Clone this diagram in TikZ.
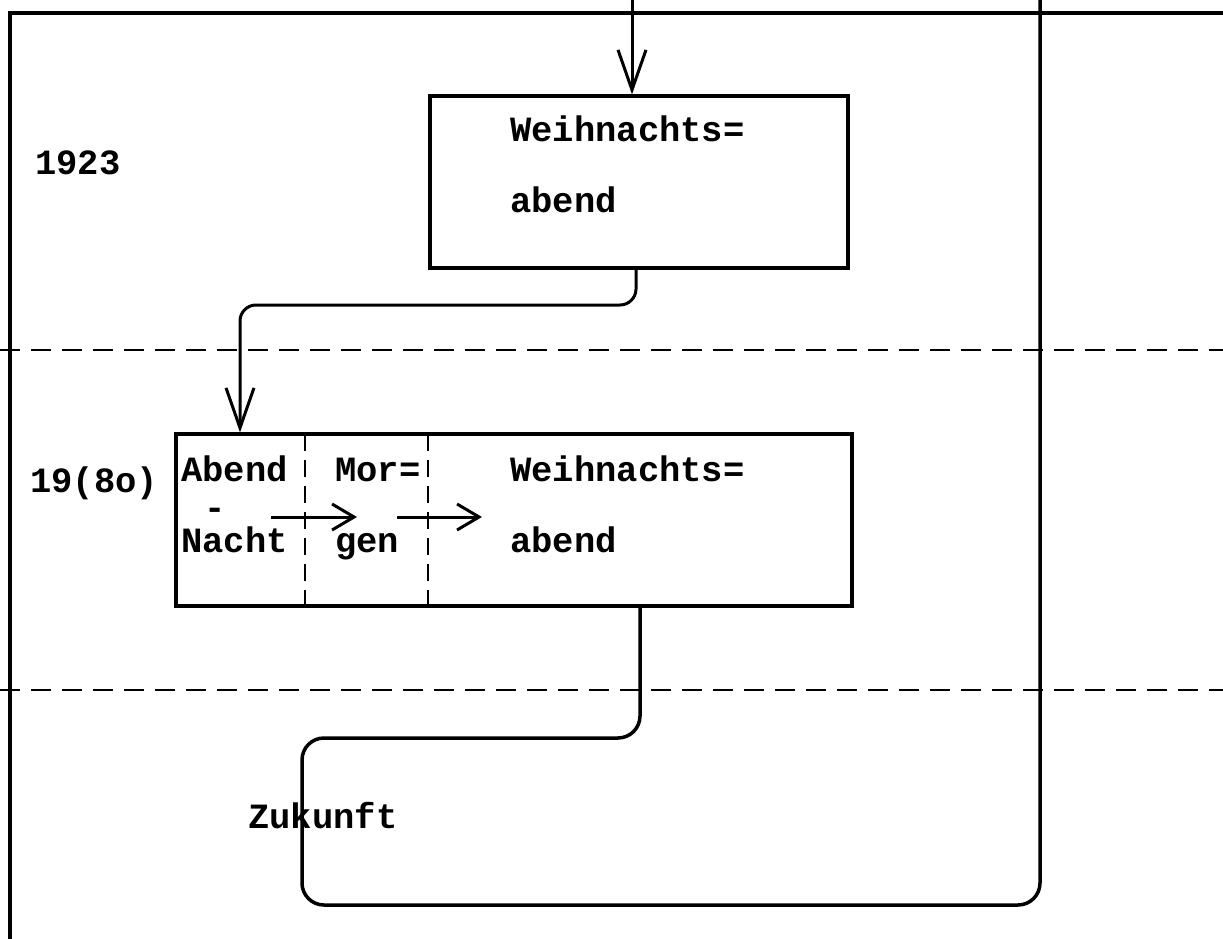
\documentclass[tikz,border=0pt]{standalone}
\usepackage{fontspec}
\newfontfamily\tw{Liberation Mono}[BoldFont={Liberation Mono Bold}]
\usetikzlibrary{arrows.meta}
\begin{document}
\begin{tikzpicture}[x=1pt,y=-1pt,
  ln/.style={line width=3pt},
  frame/.style={line width=3.2pt, line cap=round},
  dline/.style={line width=2.8pt, dash pattern=on 20pt off 11pt},
  dvert/.style={line width=2.6pt, dash pattern=on 17pt off 9pt},
  box/.style={draw, line width=3.2pt, rectangle, inner sep=0pt},
  txt/.style={font=\tw\bfseries\fontsize{35.5}{40}\selectfont, inner sep=0pt, anchor=base west},
  bigv/.style={-{Straight Barb[length=40pt,width=28pt]}},
  smallv/.style={-{Straight Barb[length=22pt,width=26pt]}},
  loop/.style={line width=3.5pt, rounded corners=22pt}
]
\useasboundingbox (0,0) rectangle (1223,939);

% outer frame
\coordinate (tl) at (10,13);
\coordinate (tr) at (1223,13);
\coordinate (bl) at (10,939);
\draw[frame] (bl) -- (tl) -- (tr);

% dashed period separators
\coordinate (d1l) at (0,350);
\coordinate (d1r) at (1223,350);
\coordinate (d2l) at (0,690);
\coordinate (d2r) at (1223,690);
\draw[dline] (d1l) -- (d1r);
\draw[dline] (d2l) -- (d2r);

% boxes
\node[box, minimum width=418pt, minimum height=172pt] (box1) at (639,182) {};
\node[box, minimum width=676pt, minimum height=172pt] (box2) at (514,520) {};

% dashed dividers in box2
\coordinate (v1t) at (305,434);
\coordinate (v2t) at (428,434);
\draw[dvert] (v1t) -- (v1t |- box2.south);
\draw[dvert] (v2t) -- (v2t |- box2.south);

% texts
\node[txt] (y1923) at (35,174) {1923};
\node[txt] (w1) at (510,142) {Weihnachts=};
\node[txt] (a1) at (510,212) {abend};
\node[txt] (y1980) at (30,492) {19(8o)};
\node[txt] (abend) at (181,481) {Abend};
\node[txt] (dash) at (204,519) {-};
\node[txt] (nacht) at (181,552) {Nacht};
\node[txt] (mor) at (335,481) {Mor=};
\node[txt] (gen) at (335,552) {gen};
\node[txt] (w2) at (510,481) {Weihnachts=};
\node[txt] (a2) at (510,552) {abend};
\node[txt] (zuk) at (248,828) {Zukunft};

% small arrows in box2
\coordinate (s1a) at (271,517);
\coordinate (s1b) at (357,517);
\coordinate (s2a) at (397,517);
\coordinate (s2b) at (482,517);
\draw[ln, smallv] (s1a) -- (s1b);
\draw[ln, smallv] (s2a) -- (s2b);

% incoming arrow from top
\coordinate (ta) at (632,0);
\draw[ln, bigv] (ta) -- (ta |- box1.north);

% box1 -> box2
\coordinate (c1) at (636,0);
\coordinate (c2) at (240,305);
\draw[ln, bigv, rounded corners=16pt] (c1 |- box1.south) |- (c2) -- (c2 |- box2.north);

% big loop to the future and back up
\coordinate (l0) at (640,0);
\coordinate (l1) at (302,738);
\coordinate (l2) at (1040,905);
\coordinate (l3) at (1040,0);
\draw[loop] (l0 |- box2.south) |- (l1) |- (l2) -- (l3);
\end{tikzpicture}
\end{document}
